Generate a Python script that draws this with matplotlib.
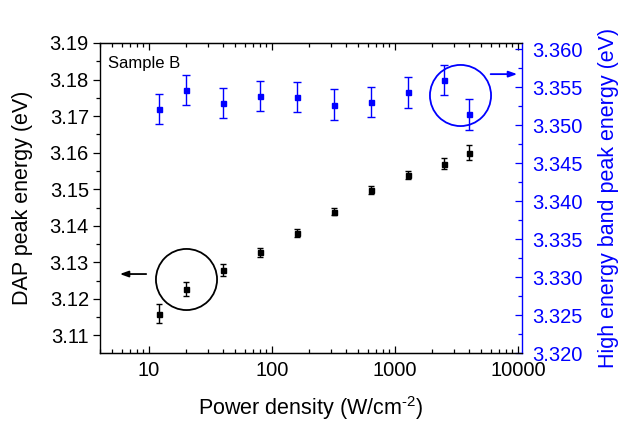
import numpy as np
import matplotlib
matplotlib.use("Agg")
import matplotlib.pyplot as plt
from matplotlib.ticker import MultipleLocator, LogLocator, NullFormatter, FixedLocator, FixedFormatter

plt.rcParams['font.family'] = ['Liberation Sans', 'DejaVu Sans']
plt.rcParams['mathtext.fontset'] = 'custom'
plt.rcParams['mathtext.rm'] = 'Liberation Sans'

# data
power = [12, 20, 40, 80, 160, 320, 640, 1280, 2500, 4000]
dap = [3.116, 3.1227, 3.1279, 3.1327, 3.138, 3.1439, 3.1499, 3.1538, 3.157, 3.160]
dap_err = [0.0025, 0.0018, 0.0016, 0.0013, 0.0011, 0.0010, 0.0011, 0.0011, 0.0016, 0.0020]
heb = [3.3521, 3.3546, 3.3529, 3.3538, 3.3537, 3.3527, 3.3530, 3.3543, 3.3559, 3.3514]
heb_err = [0.0020, 0.0020, 0.0020, 0.0020, 0.0020, 0.0020, 0.0020, 0.0020, 0.0020, 0.0020]

x_ticks = [10, 100, 1000, 10000]
x_labels = ["10", "100", "1000", "10000"]

blue = "#0000FF"

fig = plt.figure(figsize=(6.19, 4.21), dpi=100)
ax = fig.add_axes([0.1616, 0.1615, 0.6817, 0.7364])
ax2 = ax.twinx()

# DAP (black, left axis)
ax.errorbar(power, dap, yerr=dap_err, fmt='s', color='k', ms=3.6, capsize=2.3,
            elinewidth=1.0, capthick=1.0)
# high energy band (blue, right axis)
ax2.errorbar(power, heb, yerr=heb_err, fmt='s', color=blue, ms=3.6, capsize=2.6,
             elinewidth=1.0, capthick=1.0)

ax.set_xscale('log')
ax.set_xlim(4.0, 10800)
ax.set_ylim(3.1052, 3.19)
ax2.set_ylim(3.320, 3.3608)

ax.xaxis.set_major_locator(FixedLocator(x_ticks))
ax.xaxis.set_major_formatter(FixedFormatter(x_labels))
ax.xaxis.set_minor_locator(LogLocator(base=10, subs=np.arange(2, 10)))
ax.xaxis.set_minor_formatter(NullFormatter())

ax.yaxis.set_major_locator(MultipleLocator(0.01))
ax.yaxis.set_minor_locator(MultipleLocator(0.005))
ax.yaxis.set_major_formatter(matplotlib.ticker.FormatStrFormatter('%.2f'))
ax2.yaxis.set_major_locator(MultipleLocator(0.005))
ax2.yaxis.set_minor_locator(MultipleLocator(0.0025))
ax2.yaxis.set_major_formatter(matplotlib.ticker.FormatStrFormatter('%.3f'))

# ticks
ax.tick_params(axis='x', which='both', direction='in', top=True, labelsize=14.5, pad=6)
ax.tick_params(axis='x', which='major', length=5, width=0.9)
ax.tick_params(axis='x', which='minor', length=3, width=0.9)
ax.tick_params(axis='y', which='both', direction='out', labelsize=14.5, pad=3)
ax.tick_params(axis='y', which='major', length=5, width=0.9)
ax.tick_params(axis='y', which='minor', length=3, width=0.9)
ax2.tick_params(axis='y', which='both', direction='in', colors=blue, labelsize=14.5, pad=7)
ax2.tick_params(axis='y', which='major', length=5, width=0.9)
ax2.tick_params(axis='y', which='minor', length=3, width=0.9)

for s in ax.spines.values():
    s.set_linewidth(1.0)
ax.spines['right'].set_visible(False)
ax2.spines['right'].set_color(blue)
ax2.spines['right'].set_linewidth(1.0)
ax2.spines['left'].set_visible(False)

ax.set_xlabel("Power density (W/cm$^{\\text{-2}}$)", fontsize=15.5, labelpad=10)
ax.set_ylabel("DAP peak energy (eV)", fontsize=15.5, labelpad=12)
ax2.set_ylabel("High energy band peak energy (eV)", fontsize=15.5, color=blue, labelpad=11)

ax.text(0.019, 0.935, "Sample B", transform=ax.transAxes, fontsize=12, va='center', ha='left')

# circles and arrows pointing to their axis
ax.plot([20], [3.1254], 'o', ms=44, mfc='none', mec='k', mew=1.3)
ax.annotate('', xy=(5.5, 3.1268), xytext=(10, 3.1268),
            arrowprops=dict(arrowstyle='-|>,head_length=0.5,head_width=0.18', color='k', lw=1.3))
ax2.plot([3400], [3.3540], 'o', ms=44, mfc='none', mec=blue, mew=1.3)
ax2.annotate('', xy=(10400, 3.3567), xytext=(5700, 3.3567),
             arrowprops=dict(arrowstyle='-|>,head_length=0.5,head_width=0.18', color=blue, lw=1.3))

fig.savefig("out.png", dpi=100)
